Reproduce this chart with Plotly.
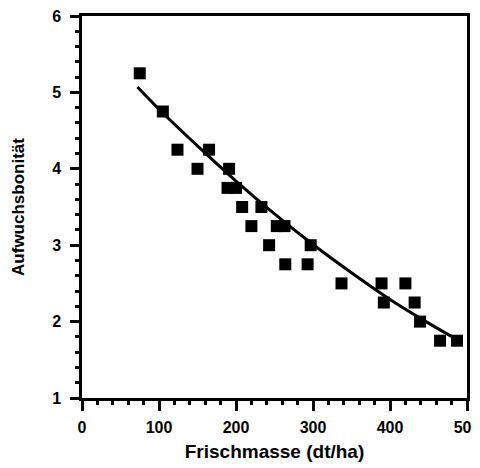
import plotly.graph_objects as go

# Data
frischmasse = [75, 105, 124, 165, 150, 191, 189, 200, 208, 233, 220, 253, 263,
               243, 264, 293, 297, 337, 389, 420, 392, 432, 439, 465, 487]
bonitaet = [5.25, 4.75, 4.25, 4.25, 4.0, 4.0, 3.75, 3.75, 3.5, 3.5, 3.25, 3.25, 3.25,
            3.0, 2.75, 2.75, 3.0, 2.5, 2.5, 2.5, 2.25, 2.25, 2.0, 1.75, 1.75]

# Fitted curve
curve_x = [72, 100, 150, 200, 250, 300, 350, 400, 450, 488]
curve_y = [5.07, 4.78, 4.30, 3.84, 3.41, 3.01, 2.64, 2.29, 1.98, 1.76]

x_ticks = [0, 100, 200, 300, 400, 500]
y_ticks = [1, 2, 3, 4, 5, 6]

fig = go.Figure()
fig.add_trace(go.Scatter(x=curve_x, y=curve_y, mode="lines", line=dict(color="black", width=3, shape="spline"),
                         showlegend=False, hoverinfo="skip"))
fig.add_trace(go.Scatter(x=frischmasse, y=bonitaet, mode="markers",
                         marker=dict(symbol="square", size=12, color="black"), showlegend=False))

font_fam = "Liberation Sans, Arial, sans-serif"
fig.update_layout(
    width=480, height=460,
    margin=dict(l=74, r=21, t=8, b=70),
    paper_bgcolor="white", plot_bgcolor="white",
    font=dict(family=font_fam, color="black", size=11),
    xaxis=dict(range=[0, 500], tickvals=x_ticks, ticks="outside", ticklen=10, tickwidth=2.5, tickcolor="black",
               showline=True, linewidth=2.5, linecolor="black", mirror=True, showgrid=False, zeroline=False,
               automargin=False, ticklabelstandoff=3, ticklabeloverflow="allow",
               tickfont=dict(size=16, family=font_fam, weight="bold"),
               minor=dict(dtick=20, ticks="outside", ticklen=4, tickwidth=2.5, tickcolor="black", showgrid=False),
               title=dict(text="<b>Frischmasse (dt/ha)</b>", font=dict(size=19), standoff=10)),
    yaxis=dict(range=[1, 6], tickvals=y_ticks, ticks="outside", ticklen=9, tickwidth=2.5, tickcolor="black",
               showline=True, linewidth=2.5, linecolor="black", mirror=True, showgrid=False, zeroline=False,
               automargin=False, ticklabelstandoff=6, ticklabeloverflow="allow",
               tickfont=dict(size=16, family=font_fam, weight="bold"),
               minor=dict(dtick=0.2, ticks="outside", ticklen=4, tickwidth=2.5, tickcolor="black", showgrid=False),
               title=dict(text="<b>Aufwuchsbonität</b>", font=dict(size=17), standoff=24)),
)

fig.write_html("out.html")
